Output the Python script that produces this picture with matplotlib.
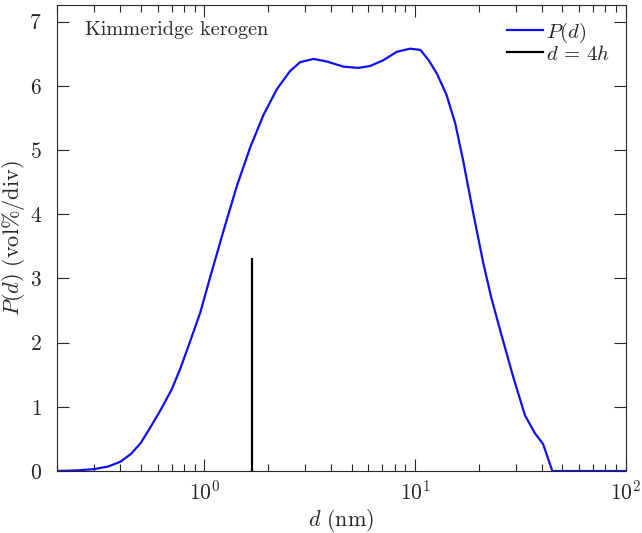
import numpy as np
import matplotlib
matplotlib.use('Agg')
import matplotlib.pyplot as plt

# pore size distribution
d_nm = [0.2, 0.25, 0.3, 0.35, 0.4, 0.45, 0.5, 0.55, 0.62, 0.7, 0.77, 0.85,
        0.957, 1.068, 1.235, 1.43, 1.65, 1.91, 2.21, 2.55, 2.85, 3.3, 3.81,
        4.57, 5.38, 6.12, 7.07, 8.18, 9.46, 10.6, 11.6, 12.7, 14.1, 15.5,
        16.9, 18.9, 21.1, 23.0, 25.3, 29.2, 33.2, 37.0, 40.5, 44.8, 100.0]
P_d = [0.0, 0.01, 0.03, 0.07, 0.145, 0.27, 0.44, 0.66, 0.95, 1.27, 1.60, 1.99,
       2.47, 3.03, 3.75, 4.45, 5.04, 5.55, 5.95, 6.23, 6.37, 6.42, 6.38,
       6.30, 6.28, 6.31, 6.40, 6.53, 6.58, 6.56, 6.40, 6.19, 5.86, 5.42,
       4.84, 4.01, 3.23, 2.70, 2.20, 1.47, 0.87, 0.59, 0.42, 0.0, 0.0]

# d = 4h marker
d_4h = 1.69
d_4h_height = 3.3

plt.rcParams['font.family'] = 'serif'
plt.rcParams['font.serif'] = ['cmr10']
plt.rcParams['mathtext.fontset'] = 'cm'
plt.rcParams['axes.formatter.use_mathtext'] = True
plt.rcParams['axes.unicode_minus'] = False

grey = '#262626'

fig = plt.figure(figsize=(6.42, 5.33), dpi=100)
ax = fig.add_axes([0.0888, 0.1163, 0.886, 0.8743])

ax.plot(d_nm, P_d, color='#0f0ff5', lw=1.6, label=r'$P(d)$')
ax.plot([d_4h, d_4h], [0, d_4h_height], color='black', lw=1.6, label=r'$d\,=\,4h$')

ax.set_xscale('log')
ax.set_xlim(0.2, 100)
ax.set_ylim(0, 7.26)
ax.set_yticks(range(0, 8))

ax.set_xlabel(r'$d\ \mathrm{(nm)}$', fontsize=16, color=grey)
ax.set_ylabel(r'$P(d)\ \mathrm{(vol\%/div)}$', fontsize=16, color=grey)
ax.yaxis.set_label_coords(-0.052, 0.5)
ax.xaxis.set_label_coords(0.5, -0.078)

ax.tick_params(which='both', direction='in', top=True, right=True,
               colors=grey, labelsize=15.5, labelcolor=grey)
ax.tick_params(which='major', length=8.5, width=0.8)
ax.tick_params(axis='y', which='major', pad=11)
ax.tick_params(axis='x', which='major', pad=6)
ax.tick_params(which='minor', length=5, width=0.8)
for s in ax.spines.values():
    s.set_color(grey)
    s.set_linewidth(0.8)

ax.text(0.049, 0.947, 'Kimmeridge kerogen', transform=ax.transAxes,
        fontsize=14.6, color=grey, va='center', ha='left')

leg = ax.legend(loc='upper right', frameon=False, fontsize=15,
                handlelength=1.7, handletextpad=0.15, borderaxespad=0.4,
                borderpad=0.35, labelspacing=0.0)
for t in leg.get_texts():
    t.set_color(grey)

fig.savefig('out.png', dpi=100)
